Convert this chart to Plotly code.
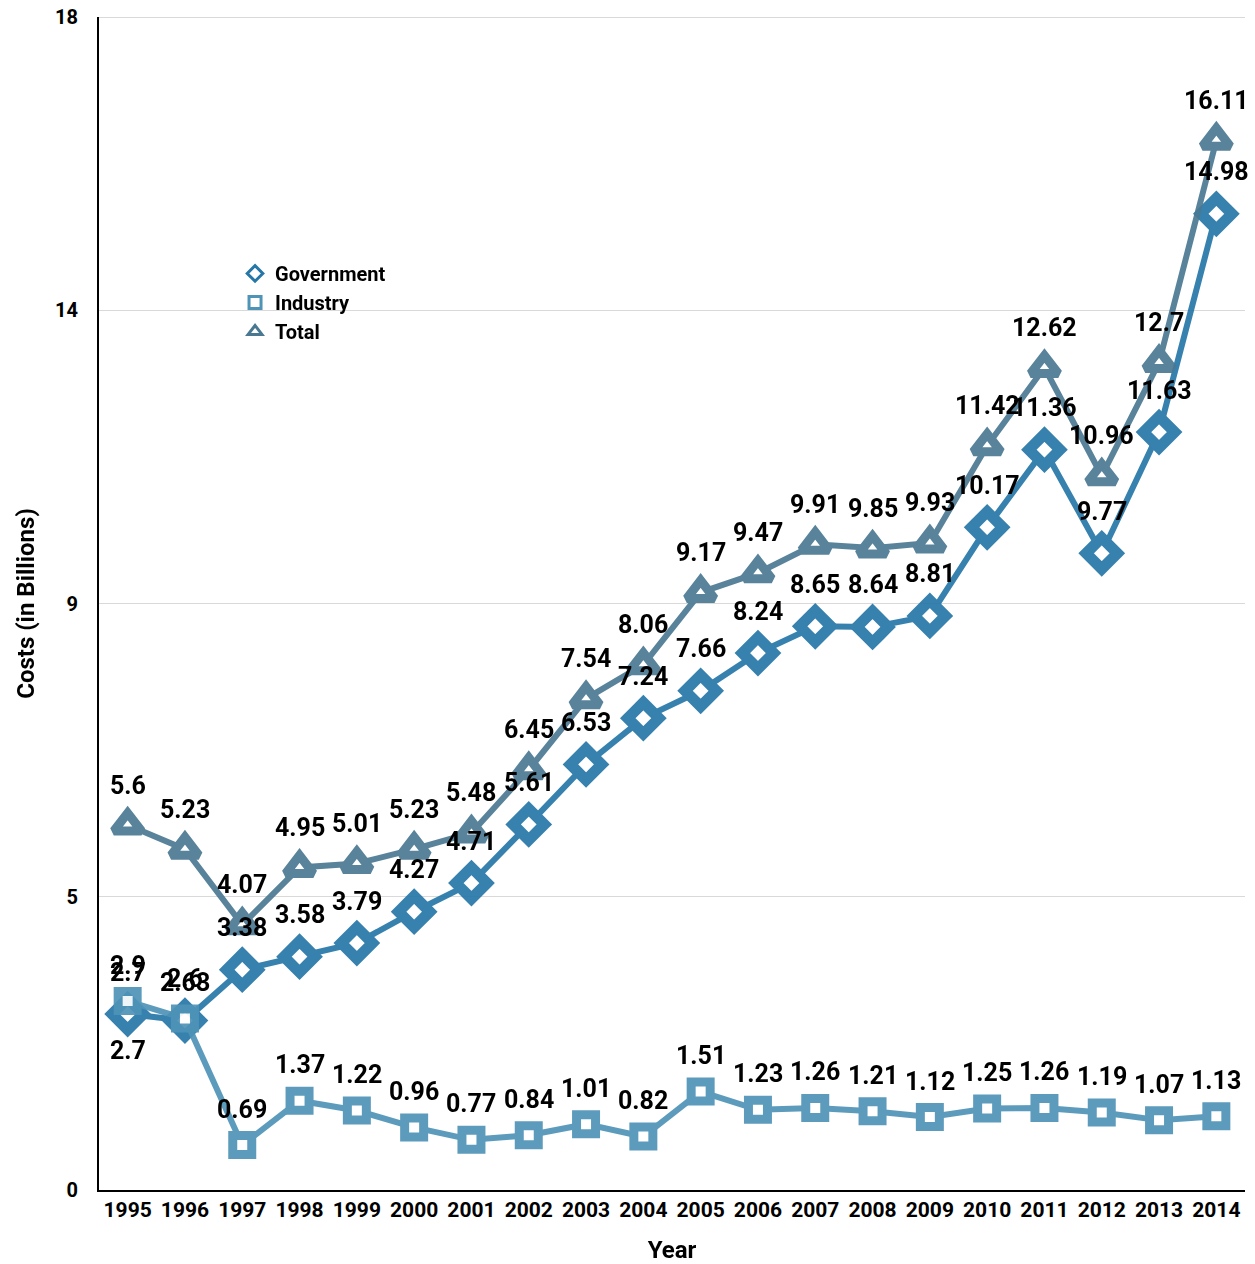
import plotly.graph_objects as go

years = [str(y) for y in range(1995, 2015)]
government = [2.7, 2.6, 3.38, 3.58, 3.79, 4.27, 4.71, 5.61, 6.53, 7.24, 7.66, 8.24, 8.65, 8.64, 8.81, 10.17, 11.36, 9.77, 11.63, 14.98]
industry = [2.9, 2.63, 0.69, 1.37, 1.22, 0.96, 0.77, 0.84, 1.01, 0.82, 1.51, 1.23, 1.26, 1.21, 1.12, 1.25, 1.26, 1.19, 1.07, 1.13]
total = [5.6, 5.23, 4.07, 4.95, 5.01, 5.23, 5.48, 6.45, 7.54, 8.06, 9.17, 9.47, 9.91, 9.85, 9.93, 11.42, 12.62, 10.96, 12.7, 16.11]
y_tickvals = [0, 4.5, 9, 13.5, 18]
y_ticktext = ["0", "5", "9", "14", "18"]

c_gov = "#2676a8"
c_ind = "#4f93b7"
c_tot = "#4a7891"
FONT = "Roboto"
LABEL_FONT = dict(family=FONT, size=25, color="black", weight="bold")

fig = go.Figure()

series = [
    ("Government", government, c_gov, "diamond", 24, 11, 42),
    ("Industry", industry, c_ind, "square", 19, 9, 36),
    ("Total", total, c_tot, "triangle-up", 24, 9, 40),
]

for name, vals, col, sym, size, lw, shift in series:
    fig.add_trace(go.Scatter(
        x=years, y=vals, mode="lines+markers", name=name, showlegend=False,
        line=dict(color=col, width=6),
        marker=dict(symbol=sym, size=size, color="white", line=dict(color=col, width=lw)),
        opacity=0.92,
    ))

# data labels: category index used as x position (numeric-like category names)
for name, vals, col, sym, size, lw, shift in series:
    for i, v in enumerate(vals):
        fig.add_annotation(x=i, y=v, xref="x", yref="y", text=str(v), showarrow=False,
                           yshift=shift, font=LABEL_FONT)

# duplicate label below the 1995 government point, as in the reference
fig.add_annotation(x=0, y=government[0], xref="x", yref="y", text=str(government[0]),
                   showarrow=False, yshift=-36, font=LABEL_FONT)

# top gridline (plotly drops the grid line at the plot edge)
fig.add_shape(type="line", xref="paper", x0=0, x1=1, yref="y", y0=y_tickvals[-1], y1=y_tickvals[-1],
              line=dict(color="#d9d9d9", width=2), layer="below")

# legend entries
for name, vals, col, sym, size, lw, shift in series:
    fig.add_trace(go.Scatter(
        x=[None], y=[None], mode="markers", name=name,
        marker=dict(symbol=sym, size=12, color="white", line=dict(color=col, width=3)),
    ))

fig.update_layout(
    width=1255, height=1264,
    margin=dict(l=99, r=10, t=17, b=74),
    plot_bgcolor="white", paper_bgcolor="white",
    font=dict(family=FONT, color="black", weight="bold"),
    showlegend=True,
    legend=dict(x=0.1187, y=0.798, xanchor="left", yanchor="top",
                bgcolor="rgba(0,0,0,0)", itemwidth=30,
                font=dict(family=FONT, size=20, color="black", weight="bold"),
                tracegroupgap=0),
    xaxis=dict(
        type="category", range=[-0.5, 19.5], automargin=False,
        showline=True, linecolor="black", linewidth=2,
        showgrid=False, ticks="",
        tickfont=dict(family=FONT, size=21, color="black", weight="bold"),
        title=dict(text="Year", font=dict(family=FONT, size=24, color="black", weight="bold"), standoff=31),
    ),
    yaxis=dict(
        range=[0, 18], tickvals=y_tickvals, ticktext=y_ticktext, automargin=False,
        showline=True, linecolor="black", linewidth=2,
        showgrid=True, gridcolor="#d9d9d9", gridwidth=1,
        zeroline=False, ticks="", ticklabelstandoff=15,
        tickfont=dict(family=FONT, size=20, color="black", weight="bold"),
        title=dict(text="Costs (in Billions)", font=dict(family=FONT, size=24, color="black", weight="bold"), standoff=14),
    ),
)

fig.write_html("out.html", config={"displayModeBar": False},
               post_script="document.body.style.margin='0';")
